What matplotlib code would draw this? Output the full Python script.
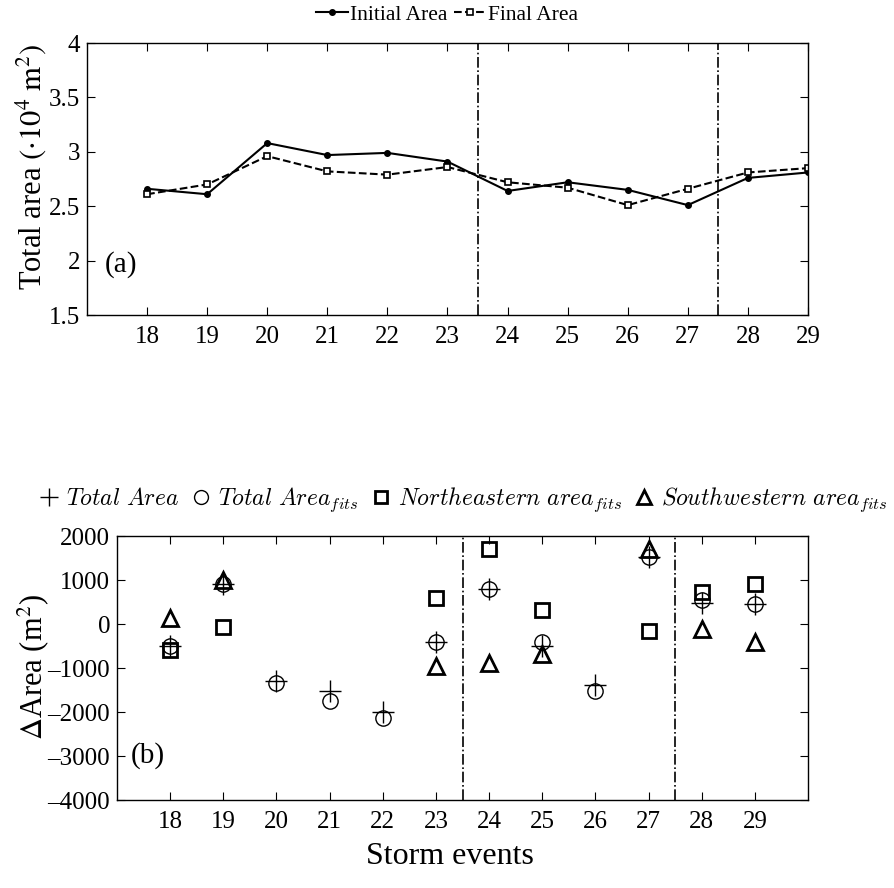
import matplotlib
matplotlib.use("Agg")
import matplotlib.pyplot as plt
from matplotlib.font_manager import FontProperties
from matplotlib.lines import Line2D
from matplotlib.ticker import FuncFormatter

plt.rcParams['font.family'] = ['Liberation Serif', 'DejaVu Serif']
plt.rcParams['mathtext.fontset'] = 'stix'

# ---- data ----
events = [18, 19, 20, 21, 22, 23, 24, 25, 26, 27, 28, 29]
initial_area = [2.66, 2.61, 3.08, 2.97, 2.99, 2.91, 2.64, 2.72, 2.65, 2.51, 2.76, 2.81]
final_area = [2.61, 2.70, 2.96, 2.82, 2.79, 2.86, 2.72, 2.67, 2.51, 2.66, 2.81, 2.85]

delta_total = [-490, 915, -1300, -1533, -1995, -415, 787, -500, -1390, 1528, 470, 462]
delta_total_fits = [-500, 900, -1352, -1745, -2146, -415, 787, -400, -1518, 1528, 544, 462]
delta_ne_fits = [-600, -68, None, None, None, 590, 1694, 318, None, -158, 726, 915]
delta_sw_fits = [130, 1000, None, None, None, -952, -876, -672, None, 1710, -120, -408]

separators = [23.5, 27.5]
top_yticks = [1.5, 2, 2.5, 3, 3.5, 4]
bottom_yticks = [-4000, -3000, -2000, -1000, 0, 1000, 2000]

W, H = 895, 888
fig = plt.figure(figsize=(W / 100, H / 100), dpi=100)

def frac(l, t, r, b):
    return [l / W, 1 - b / H, (r - l) / W, (b - t) / H]

fs = 18

def style(ax):
    ax.tick_params(direction='in', top=True, right=True, length=6, width=0.8,
                   labelsize=fs)
    ax.tick_params(axis='x', pad=8)
    ax.tick_params(axis='y', pad=5)
    for s in ax.spines.values():
        s.set_linewidth(1.0)

def nanify(vals):
    return [v if v is not None else float('nan') for v in vals]

def fmt(v, p):
    s = '%g' % abs(v)
    return ('\u2013' + s) if v < 0 else s

# ---- top panel ----
ax1 = fig.add_axes(frac(87, 43, 808, 315))
l1, = ax1.plot(events, initial_area, '-', color='black', lw=1.5, marker='o',
               markersize=4, markerfacecolor='black', label='Initial Area')
l2, = ax1.plot(events, final_area, '--', color='black', lw=1.5, marker='s',
               markersize=5, markerfacecolor='white', markeredgewidth=1.2,
               label='Final Area')
for s in separators:
    ax1.axvline(s, color='black', ls='-.', lw=1.2)
ax1.set_xlim(17, 29)
ax1.set_ylim(1.5, 4)
ax1.set_xticks(events)
ax1.set_yticks(top_yticks)
ax1.yaxis.set_major_formatter(FuncFormatter(fmt))
ax1.set_ylabel(r'Total area $(\cdot10^4\ \mathrm{m}^2)$', fontsize=22)
ax1.yaxis.set_label_coords((31 - 87) / 721, 0.545)
ax1.yaxis.label.set_va('center')
style(ax1)
ax1.text(17.3, 1.96, '(a)', fontsize=21, va='center', ha='left')
fig.legend(handles=[l1, l2], loc='center', bbox_to_anchor=(447 / W, 1 - 15 / H),
           ncol=2, frameon=False, fontsize=15.5, handlelength=1.5,
           handletextpad=0.1, columnspacing=0.3)

# ---- bottom panel ----
ax2 = fig.add_axes(frac(117, 536, 808, 800))
ax2.plot(events, delta_total, ls='none', marker='+', color='black',
         markersize=16, markeredgewidth=1.0)
ax2.plot(events, delta_total_fits, ls='none', marker='o', color='black',
         markerfacecolor='none', markersize=11, markeredgewidth=1.0)
ax2.plot(events, nanify(delta_ne_fits), ls='none', marker='s', color='black',
         markerfacecolor='none', markersize=9.5, markeredgewidth=2.0)
ax2.plot(events, nanify(delta_sw_fits), ls='none', marker='^', color='black',
         markerfacecolor='none', markersize=12, markeredgewidth=2.0)
for s in separators:
    ax2.axvline(s, color='black', ls='-.', lw=1.2)
ax2.set_xlim(17, 30)
ax2.set_ylim(-4000, 2000)
ax2.set_xticks(events)
ax2.set_yticks(bottom_yticks)
ax2.yaxis.set_major_formatter(FuncFormatter(fmt))
ax2.set_ylabel(r'$\Delta$Area (m$^2$)', fontsize=22)
ax2.yaxis.set_label_coords((33 - 117) / 691, 0.505)
ax2.yaxis.label.set_va('center')
style(ax2)
ax2.text(17.25, -3000, '(b)', fontsize=21, va='center', ha='left')

handles = [
    Line2D([], [], ls='none', marker='+', color='black', markersize=13, markeredgewidth=1.0),
    Line2D([], [], ls='none', marker='o', color='black', markerfacecolor='none', markersize=10, markeredgewidth=1.0),
    Line2D([], [], ls='none', marker='s', color='black', markerfacecolor='none', markersize=8.5, markeredgewidth=2.0),
    Line2D([], [], ls='none', marker='^', color='black', markerfacecolor='none', markersize=9.5, markeredgewidth=2.0),
]
labels = [r'$Total\ Area$', r'$Total\ Area_{fits}$',
          r'$Northeastern\ area_{fits}$', r'$Southwestern\ area_{fits}$']
fig.legend(handles=handles, labels=labels, loc='center',
           bbox_to_anchor=(463 / W, 1 - 500 / H), ncol=4, frameon=False,
           prop=FontProperties(size=17, math_fontfamily='cm'),
           handlelength=0.9, handletextpad=0.25, columnspacing=0.5)

fig.text(450 / W, 1 - 856 / H, 'Storm events', fontsize=23, ha='center', va='center')

fig.savefig('out.png', dpi=100)
